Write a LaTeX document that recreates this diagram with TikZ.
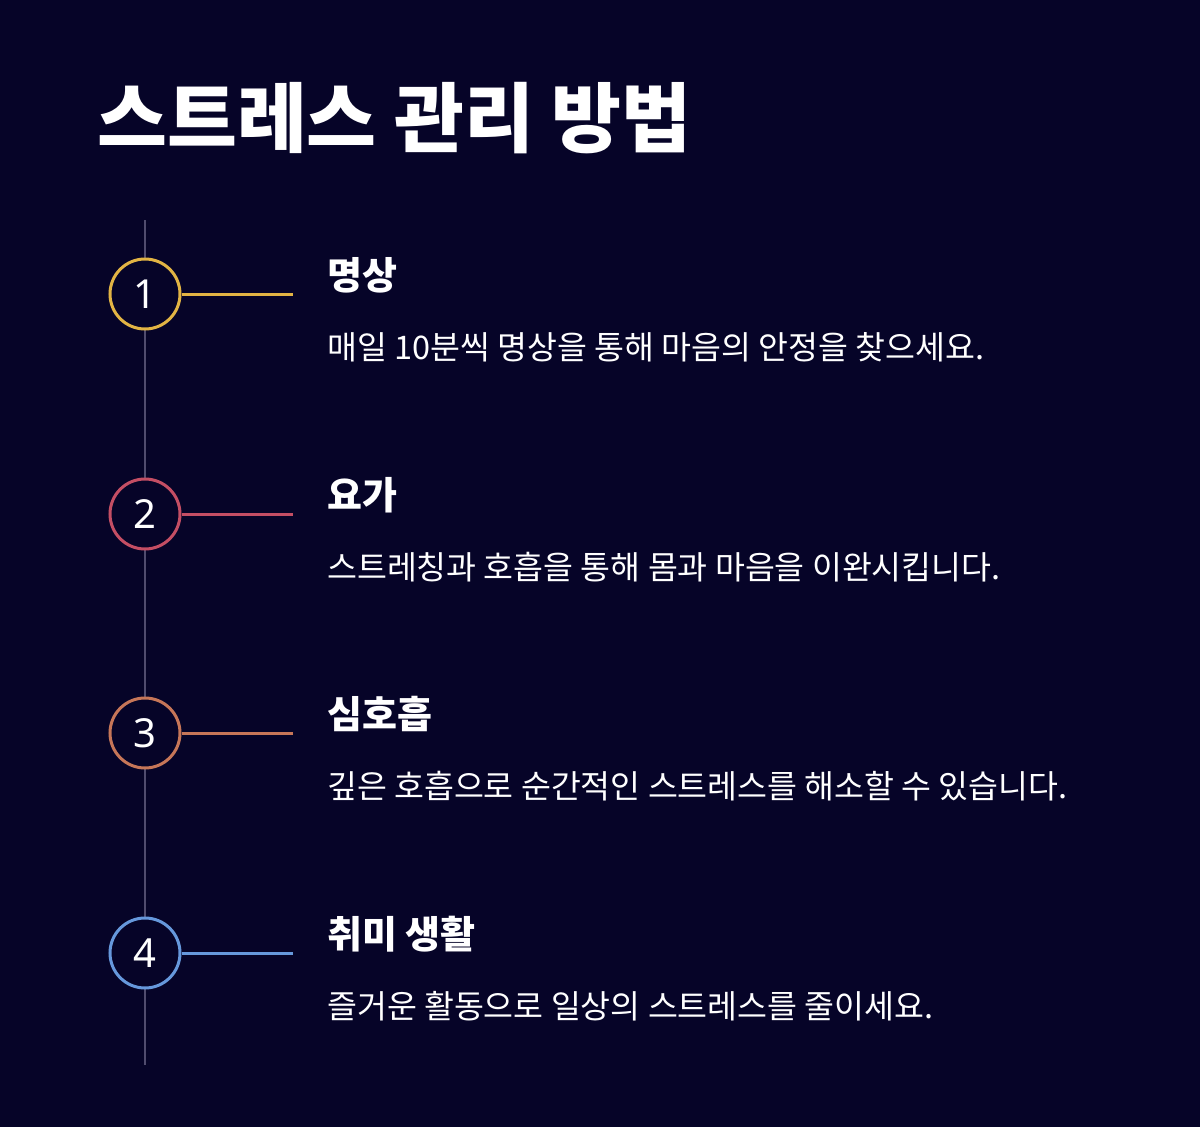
\documentclass[tikz,border=0pt]{standalone}
\usepackage{fontspec}
\setmainfont{Noto Sans CJK KR}
\newfontfamily\numfont{Noto Sans}
\begin{document}
\begin{tikzpicture}[x=1pt,y=-1pt,
  num/.style={circle,draw,line width=3pt,minimum size=70pt,inner sep=0pt,text=white,font=\numfont\fontsize{40}{40}\selectfont},
  conn/.style={line width=3pt},
  head/.style={anchor=west,text=white,inner sep=0pt,font=\fontsize{38}{42}\selectfont\bfseries},
  desc/.style={anchor=west,text=white,inner sep=0pt,font=\fontsize{32.5}{36}\selectfont}]
\definecolor{bg}{RGB}{6,4,40}
\definecolor{cA}{RGB}{226,180,68}
\definecolor{cB}{RGB}{196,78,100}
\definecolor{cC}{RGB}{198,118,88}
\definecolor{cD}{RGB}{102,152,220}
\definecolor{vline}{RGB}{80,76,110}
\fill[bg] (0,0) rectangle (1200,1127);
\useasboundingbox (0,0) rectangle (1200,1127);
\node[anchor=west,text=white,inner sep=0pt,font=\fontsize{76}{80}\selectfont\bfseries] (title) at (97,118) {스트레스 관리 방법};
\coordinate (top) at (145,220); \coordinate (bot) at (145,1065);
\draw[vline,line width=2.5pt] (top) -- (bot);
\foreach \i/\y/\c/\h/\d in {1/294/cA/명상/매일 10분씩 명상을 통해 마음의 안정을 찾으세요.,
 2/514/cB/요가/스트레칭과 호흡을 통해 몸과 마음을 이완시킵니다.,
 3/733/cC/심호흡/깊은 호흡으로 순간적인 스트레스를 해소할 수 있습니다.,
 4/953/cD/취미 생활/즐거운 활동으로 일상의 스트레스를 줄이세요.}{
 \node[num,draw=\c,fill=bg] (n\i) at (145,\y) {\i};
 \coordinate (e\i) at (293,\y);
 \draw[conn,\c] (n\i) -- (e\i);
 \node[head] (h\i) at (327,\y-19) {\h};
 \node[desc] (d\i) at (327,\y+53) {\d};
}
\end{tikzpicture}
\end{document}
